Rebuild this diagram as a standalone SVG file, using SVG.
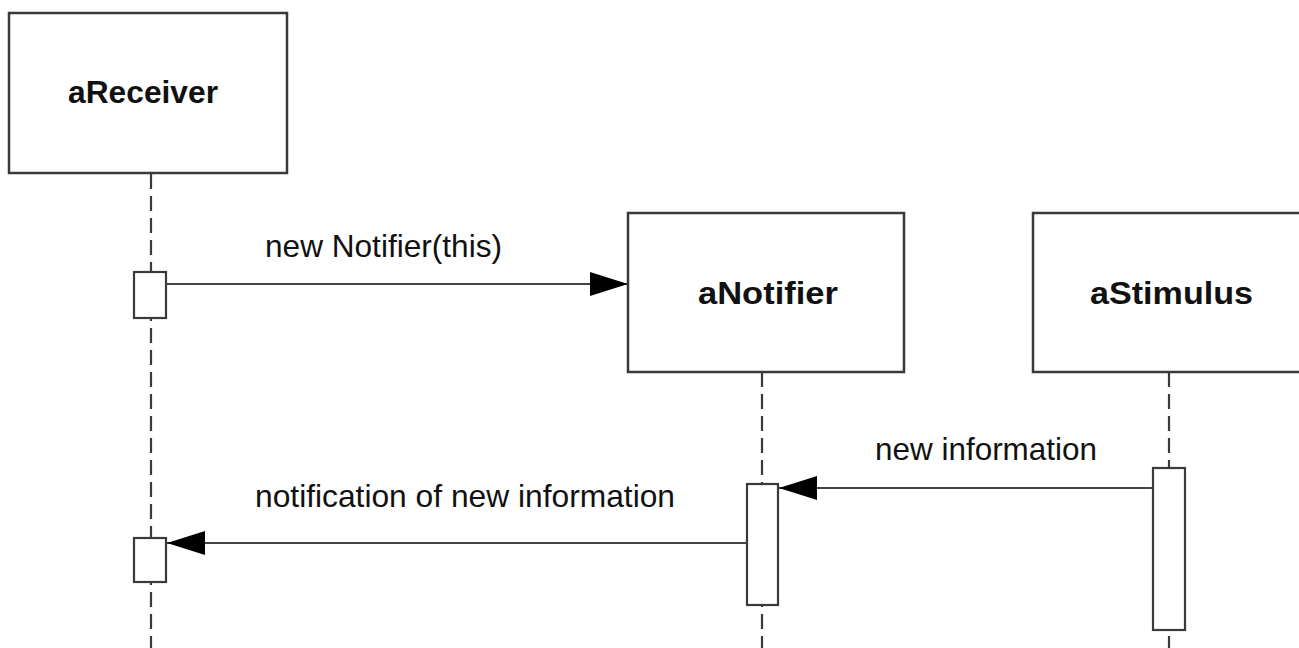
<svg xmlns="http://www.w3.org/2000/svg" width="1299" height="648" viewBox="0 0 1299 648">
<style>
.box{fill:#fff;stroke:#3a3a3a;stroke-width:2.5}
.act{fill:#fff;stroke:#3a3a3a;stroke-width:2.2}
.life{stroke:#3a3a3a;stroke-width:2.2;stroke-dasharray:15 7;fill:none}
.msg{stroke:#444;stroke-width:2.2;fill:none}
.name{font-family:"Liberation Sans",Arial,sans-serif;font-weight:bold;font-size:32px;fill:#111}
.lbl{font-family:"Liberation Sans",Arial,sans-serif;font-size:31.5px;fill:#111}
</style>
<defs>
<marker id="ah" markerWidth="38" markerHeight="24" refX="38" refY="12" orient="auto" markerUnits="userSpaceOnUse">
<path d="M0,0 L38,12 L0,24 Z" fill="#000"/>
</marker>
</defs>
<g id="lifelines">
<line class="life" x1="151" y1="174" x2="151" y2="648"/>
<line class="life" x1="762" y1="372" x2="762" y2="648"/>
<line class="life" x1="1169" y1="372" x2="1169" y2="648"/>
</g>
<g id="aReceiver">
<rect class="box" x="9" y="13" width="278" height="160"/>
<text class="name" x="68" y="103" textLength="150" lengthAdjust="spacingAndGlyphs">aReceiver</text>
<rect class="act" x="134" y="272" width="32" height="46"/>
<rect class="act" x="134" y="538" width="32" height="44"/>
</g>
<g id="aNotifier">
<rect class="box" x="628" y="213" width="276" height="159"/>
<text class="name" x="698" y="304" textLength="140" lengthAdjust="spacingAndGlyphs">aNotifier</text>
<rect class="act" x="747" y="484" width="31" height="121"/>
</g>
<g id="aStimulus">
<rect class="box" x="1033" y="213" width="280" height="159"/>
<text class="name" x="1090" y="304" textLength="163" lengthAdjust="spacingAndGlyphs">aStimulus</text>
<rect class="act" x="1153" y="468" width="32" height="162"/>
</g>
<g id="connectors">
<line class="msg" x1="166" y1="284" x2="628" y2="284" marker-end="url(#ah)"/>
<text class="lbl" x="265" y="257" textLength="237" lengthAdjust="spacingAndGlyphs">new Notifier(this)</text>
<line class="msg" x1="1153" y1="488" x2="779" y2="488" marker-end="url(#ah)"/>
<text class="lbl" x="875" y="460" textLength="222" lengthAdjust="spacingAndGlyphs">new information</text>
<line class="msg" x1="747" y1="543" x2="167" y2="543" marker-end="url(#ah)"/>
<text class="lbl" x="255" y="507" textLength="420" lengthAdjust="spacingAndGlyphs">notification of new information</text>
</g>
</svg>
